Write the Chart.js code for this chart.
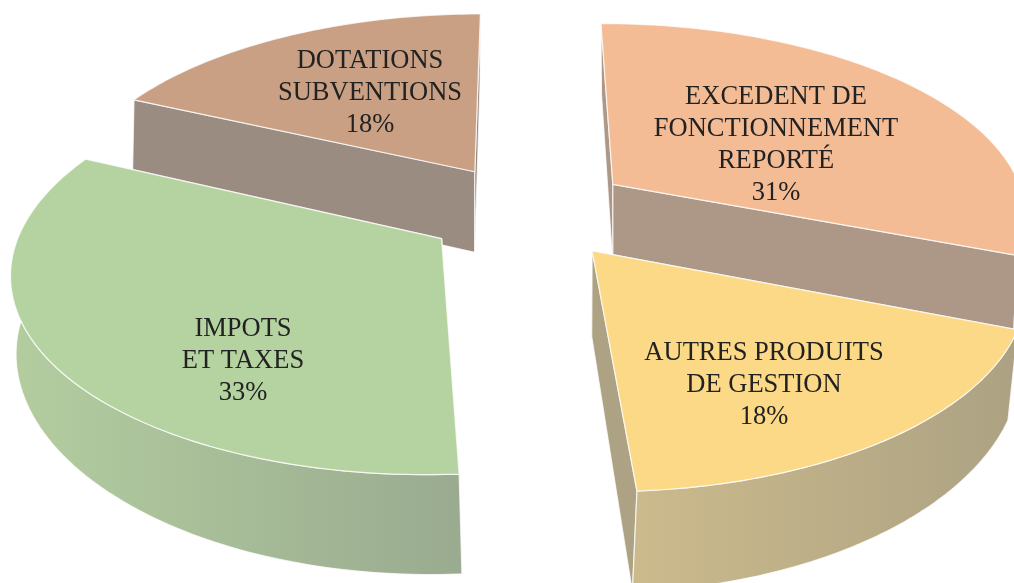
<!DOCTYPE html>
<html><head><meta charset="utf-8">
<style>html,body{margin:0;padding:0;background:#fff}canvas{display:block}</style>
<script src="https://cdn.jsdelivr.net/npm/chart.js@4"></script>
</head><body>
<canvas id="c" width="1014" height="583"></canvas>
<script>
const categories = [["EXCEDENT DE","FONCTIONNEMENT","REPORTÉ"],["AUTRES PRODUITS","DE GESTION"],["IMPOTS","ET TAXES"],["DOTATIONS","SUBVENTIONS"]];
const values = [31,18,33,18];
const topColors = ["#f4bc95","#fbd986","#b5d3a0","#c9a084"];
const sideColors = ["#ad9786","#ada283","#b0c99d","#9b8c82"];
const outerLeft = ["#ad9786","#cbba8c","#b3cd9f","#9b8c82"];
const outerRight = ["#ad9786","#aca283","#9aab90","#9b8c82"];
const labelCentres = [[776,97],[764,353],[243,329],[370,61]];

const view = {cx:529,cy:211,f:415,g:192,q:0.148,h:83,explode:0.25};
function proj(X,Y,bottom){
  const w=1-view.q*Y;
  let x=view.f*X/w, y=view.g*Y/w;
  if(bottom){ y+=view.h/w; x-=x*(Y>0?0.035*Y:0.006*Y); }
  return [view.cx+x,view.cy+y];
}
function poly(ctx,pts,fill){
  ctx.beginPath();
  pts.forEach((p,i)=>i?ctx.lineTo(p[0],p[1]):ctx.moveTo(p[0],p[1]));
  ctx.closePath();
  ctx.fillStyle=fill;ctx.fill();
  ctx.lineWidth=1.2;ctx.strokeStyle="rgba(255,255,255,0.75)";ctx.stroke();
}
const solid3d={
  id:"solid3d",
  beforeDatasetDraw(chart,args){
    const ctx=chart.ctx,arcs=args.meta.data;
    ctx.save();ctx.lineJoin="round";
    [3,0,2,1].forEach(i=>{
      const a=arcs[i],s=a.startAngle,e=a.endAngle,m=(s+e)/2;
      const ox=view.explode*Math.cos(m),oy=view.explode*Math.sin(m);
      const rim=[],front=[];
      for(let k=0;k<=80;k++){
        const t=s+(e-s)*k/80,p=[ox+Math.cos(t),oy+Math.sin(t)];
        rim.push(p);
        if(Math.sin(t)>-0.12) front.push(p);
      }
      const top=rim.map(p=>proj(p[0],p[1],false));
      const ct=proj(ox,oy,false),cb=proj(ox,oy,true);
      const f0=rim[0],f1=rim[80];
      poly(ctx,[ct,top[0],proj(f0[0],f0[1],true),cb],sideColors[i]);
      poly(ctx,[ct,top[80],proj(f1[0],f1[1],true),cb],sideColors[i]);
      if(front.length>1){
        const ft=front.map(p=>proj(p[0],p[1],false)),fb=front.map(p=>proj(p[0],p[1],true));
        const xs=top.map(p=>p[0]);
        const g=ctx.createLinearGradient(Math.min(...xs),0,Math.max(...xs),0);
        g.addColorStop(0,outerLeft[i]);g.addColorStop(1,outerRight[i]);
        poly(ctx,ft.concat(fb.reverse()),g);
      }
      poly(ctx,[ct].concat(top),topColors[i]);
    });
    ctx.restore();
    return false;
  },
  afterDatasetsDraw(chart){
    const ctx=chart.ctx,tot=values.reduce((p,v)=>p+v,0);
    ctx.save();
    ctx.font='26.5px "Liberation Serif"';ctx.fillStyle="#222";ctx.textAlign="center";ctx.textBaseline="middle";
    categories.forEach((lines,i)=>{
      const c=labelCentres[i];
      lines.concat([Math.round(values[i]/tot*100)+"%"]).forEach((t,k)=>ctx.fillText(t,c[0],c[1]+32*k));
    });
    ctx.restore();
  }
};
new Chart(document.getElementById("c"),{
  type:"pie",
  data:{labels:categories.map(l=>l.join(" ")),datasets:[{data:values,backgroundColor:topColors,borderWidth:0}]},
  options:{responsive:false,animation:false,rotation:-0.2,plugins:{legend:{display:false},tooltip:{enabled:false}}},
  plugins:[solid3d]
});
</script>
</body></html>
